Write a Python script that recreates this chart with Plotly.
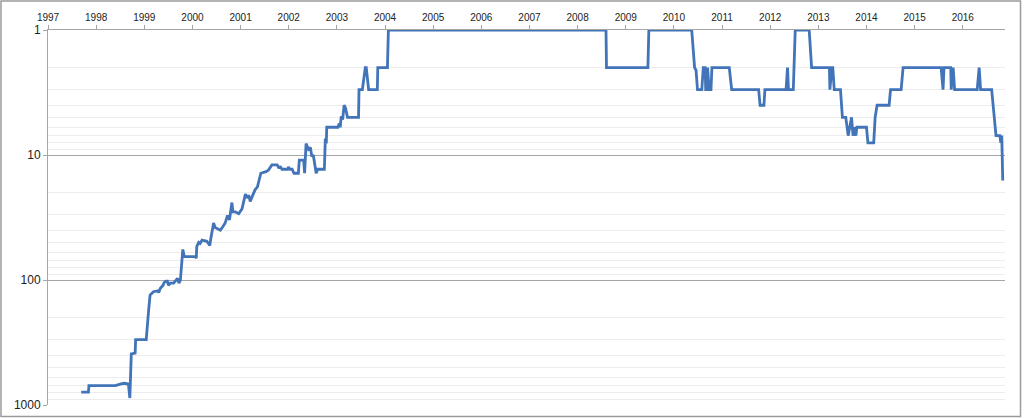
import plotly.graph_objects as go

years = [
    1997.69, 1997.84, 1997.85, 1998.40, 1998.50, 1998.58, 1998.67, 1998.70, 1998.73, 1998.81,
    1998.82, 1999.04, 1999.09, 1999.12, 1999.19, 1999.28, 1999.30, 1999.33, 1999.39, 1999.41,
    1999.45, 1999.48, 1999.50, 1999.54, 1999.61, 1999.64, 1999.69, 1999.72, 1999.75, 1999.80,
    1999.83, 2000.06, 2000.08, 2000.09, 2000.13, 2000.16, 2000.20, 2000.30, 2000.36, 2000.38,
    2000.44, 2000.47, 2000.52, 2000.58, 2000.63, 2000.68, 2000.73, 2000.77, 2000.82, 2000.84,
    2000.89, 2000.96, 2001.03, 2001.10, 2001.13, 2001.17, 2001.20, 2001.26, 2001.30, 2001.35,
    2001.39, 2001.42, 2001.53, 2001.58, 2001.65, 2001.76, 2001.80, 2001.82, 2001.86, 2001.97,
    2002.00, 2002.02, 2002.07, 2002.11, 2002.20, 2002.22, 2002.31, 2002.33, 2002.36, 2002.41,
    2002.45, 2002.48, 2002.51, 2002.57, 2002.60, 2002.74, 2002.76, 2002.78, 2002.79, 2003.02,
    2003.05, 2003.07, 2003.09, 2003.12, 2003.15, 2003.18, 2003.22, 2003.45, 2003.46, 2003.53,
    2003.59, 2003.61, 2003.66, 2003.84, 2003.85, 2004.05, 2004.07, 2008.59, 2008.60, 2009.46,
    2009.48, 2010.37, 2010.43, 2010.46, 2010.49, 2010.58, 2010.61, 2010.65, 2010.66, 2010.68,
    2010.70, 2010.73, 2010.77, 2010.79, 2011.15, 2011.20, 2011.76, 2011.79, 2011.87, 2011.89,
    2012.33, 2012.36, 2012.38, 2012.48, 2012.52, 2012.81, 2012.86, 2013.23, 2013.24, 2013.28,
    2013.30, 2013.33, 2013.46, 2013.50, 2013.57, 2013.59, 2013.62, 2013.69, 2013.72, 2013.75,
    2013.78, 2013.80, 2014.00, 2014.03, 2014.15, 2014.18, 2014.22, 2014.47, 2014.50, 2014.72,
    2014.76, 2015.55, 2015.59, 2015.61, 2015.75, 2015.76, 2015.80, 2015.83, 2016.30, 2016.34,
    2016.37, 2016.60, 2016.63, 2016.67, 2016.69, 2016.77, 2016.79, 2016.81, 2016.83,
]

# rank at each observation
ranks = [
    790, 790, 700, 700, 680, 670, 680, 880, 390, 385,
    300, 300, 175, 132, 124, 122, 126, 117, 110, 105,
    102, 102, 110, 106, 106, 103, 97, 106, 100, 57,
    65, 65, 67, 54, 50, 51, 48, 49, 53, 47,
    35, 38, 39, 40, 37.5, 35, 30.5, 33, 24, 28.5,
    28.5, 29.5, 27, 20.5, 22, 21, 23.5, 20.5, 19, 18,
    16, 14, 13.6, 13.2, 12, 12, 12.8, 12.3, 13, 13,
    12.5, 13, 13, 14, 14, 11, 11, 14, 8.1, 9,
    8.7, 10.3, 10, 14, 13, 13, 7.4, 8.1, 6, 6,
    5.6, 6, 4.9, 5.2, 4, 4.2, 5, 5, 3, 3,
    2, 2, 3, 3, 2, 2, 1, 1, 2, 2,
    1, 1, 2, 2.1, 3, 3, 2, 2, 3, 3,
    2, 3, 3, 2, 2, 3, 3, 4, 4, 3,
    3, 2, 3, 3, 1, 1, 2, 2, 3, 2,
    2, 3, 3, 5, 5, 6, 7, 5, 7, 6,
    7, 6, 6, 8, 8, 5, 4, 4, 3, 3,
    2, 2, 3, 2, 2, 3, 2, 3, 3, 2,
    3, 3, 4, 5.4, 7, 7, 8, 7, 16,
]

year_ticks = list(range(1997, 2017))
rank_ticks = [1, 10, 100, 1000]
rank_minor = [m * d for d in (1, 10, 100) for m in range(2, 10)]

W, H = 1024, 418
ML, MR, MT, MB = 48, 19, 30, 13

fig = go.Figure()
fig.add_trace(go.Scatter(
    x=years, y=ranks, mode="lines",
    line=dict(color="#4174b8", width=2.8),
    hoverinfo="x+y", showlegend=False,
))

fig.update_layout(
    width=W, height=H,
    margin=dict(l=ML, r=MR, t=MT, b=MB, pad=0, autoexpand=False),
    paper_bgcolor="white", plot_bgcolor="white",
    font=dict(family="Liberation Sans, Arial, sans-serif", color="#222"),
    xaxis=dict(
        side="top", range=[1997, 2016.877], automargin=False,
        tickmode="array", tickvals=year_ticks, ticktext=[str(y) for y in year_ticks],
        tickfont=dict(size=10, color="#222"),
        showgrid=False, zeroline=False,
        showline=True, linecolor="#a6a6a6", linewidth=1,
        ticks="outside", ticklen=4, tickcolor="#a6a6a6",
    ),
    yaxis=dict(
        type="log", range=[3, 0], automargin=False,
        tickmode="array", tickvals=rank_ticks, ticktext=[str(v) for v in rank_ticks],
        tickfont=dict(size=12, color="#222"),
        showgrid=True, gridcolor="#a6a6a6", gridwidth=1,
        zeroline=False,
        showline=True, linecolor="#a6a6a6", linewidth=1,
        ticks="outside", ticklen=4, tickcolor="#a6a6a6",
        minor=dict(tickmode="array", tickvals=rank_minor, showgrid=True,
                   gridcolor="#ececec", gridwidth=1, ticks=""),
    ),
)

# outer frame around the whole picture
pw, ph = W - ML - MR, H - MT - MB
fig.add_shape(type="rect", xref="paper", yref="paper",
              x0=(1 - ML) / pw, x1=(W - 3.5 - ML) / pw,
              y0=-(MB - 1.5) / ph, y1=1 + (MT - 1) / ph,
              line=dict(color="#9a9a9a", width=1.5), layer="above")

fig.write_html(
    "out.html",
    config={"displayModeBar": False},
    post_script="document.body.style.margin='0';document.body.style.overflow='hidden';",
)
